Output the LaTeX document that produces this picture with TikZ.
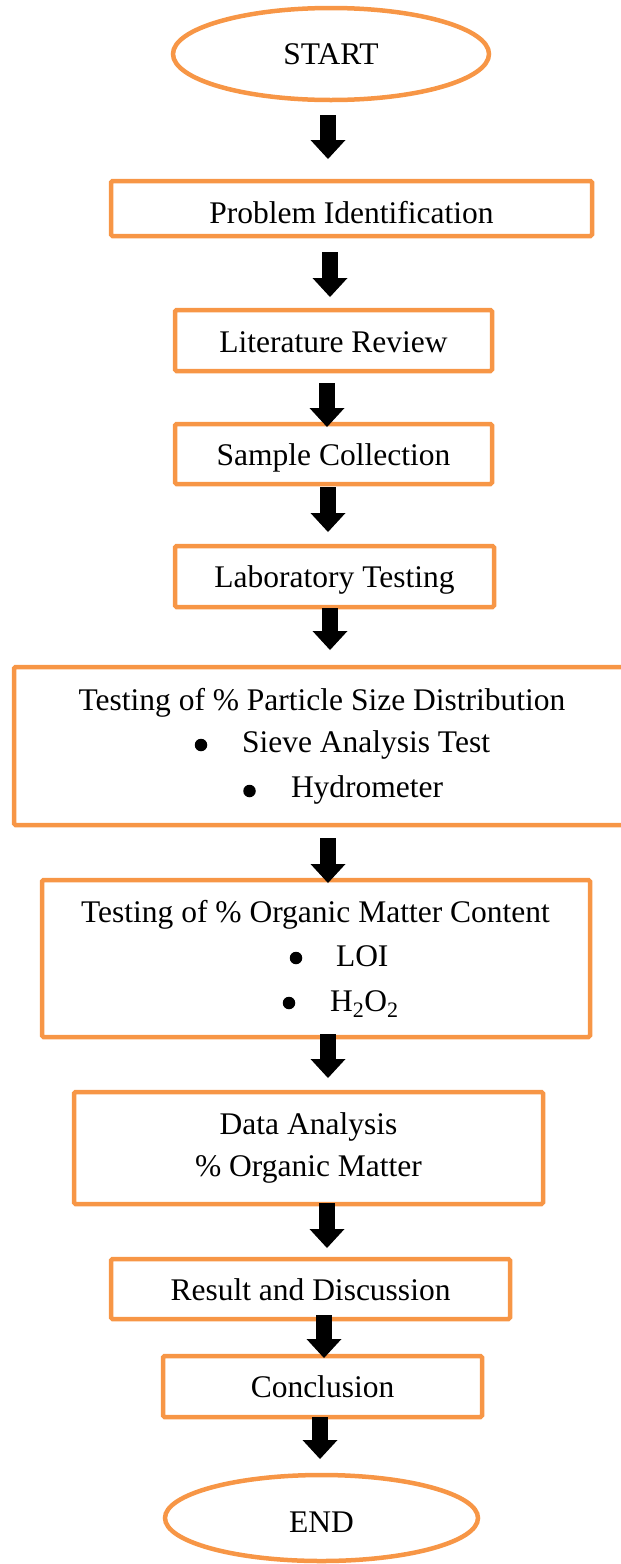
\documentclass[tikz,border=0pt]{standalone}
\usepackage{fontspec}
\setmainfont{Liberation Serif}
\usetikzlibrary{arrows.meta,shapes.geometric}
\definecolor{boxorange}{HTML}{F79646}
\begin{document}
\begin{tikzpicture}[x=1pt,y=-1pt,
  every node/.style={font=\fontsize{31.5}{36}\selectfont, inner sep=0pt, outer sep=0pt},
  box/.style={draw=boxorange, line width=4.5pt, rounded corners=1.5pt, rectangle, text height=22pt, text depth=0pt},
  term/.style={draw=boxorange, line width=4.5pt, ellipse, text height=20pt, text depth=0pt},
  txt/.style={anchor=base},
  txtw/.style={anchor=base west},
  bul/.style={circle, fill=black, minimum size=12.5pt},
  blk/.style={line width=16pt, -{Triangle[width=35pt,length=19pt,line width=0pt]}}]
\useasboundingbox (0,0) rectangle (621,1564);

% terminals and boxes
\node[term, minimum width=316pt, minimum height=92pt] (start) at (331,54) {START};
\node[box, minimum width=481pt, minimum height=55pt, text height=29pt] (prob) at (351.5,208.5) {Problem Identification};
\node[box, minimum width=317pt, minimum height=61pt, text height=23pt] (lit) at (333.5,340.5) {Literature Review};
\node[box, minimum width=317pt, minimum height=60pt, text height=22pt] (samp) at (333.5,454) {Sample Collection};
\node[box, minimum width=319pt, minimum height=61pt, text height=21pt] (lab) at (334.5,576.5) {Laboratory Testing};
\node[box, minimum width=616pt, minimum height=158pt] (part) at (322,746) {};
\node[box, minimum width=548pt, minimum height=157pt] (org) at (316,958.5) {};
\node[box, minimum width=469pt, minimum height=112pt] (data) at (308.5,1148) {};
\node[box, minimum width=399pt, minimum height=60pt, text height=22pt] (res) at (310.5,1289) {Result and Discussion};
\node[box, minimum width=319pt, minimum height=61pt, text height=21pt] (conc) at (322.5,1386.5) {Conclusion};
\node[term, minimum width=313pt, minimum height=86pt, text height=28pt] (end) at (321.5,1518) {END};

% texts of the multi-line boxes
\node[txt] (partT) at (322,710) {Testing of \% Particle Size Distribution};
\node[bul] (partB1) at (201,745) {};
\node[txtw] (partL1) at (242,752) {Sieve Analysis Test};
\node[bul] (partB2) at (249.5,791) {};
\node[txtw] (partL2) at (291,797) {Hydrometer};

\node[txt] (orgT) at (315.5,922) {Testing of \% Organic Matter Content};
\node[bul] (orgB1) at (296,958) {};
\node[txtw] (orgL1) at (336,966) {LOI};
\node[bul] (orgB2) at (289,1003) {};
\node[txtw] (orgL2) at (330,1011) {H\textsubscript{2}O\textsubscript{2}};

\node[txt] (dataT1) at (308.5,1134) {Data Analysis};
\node[txt] (dataT2) at (308.5,1176) {\% Organic Matter};

% arrow end points
\coordinate (a1s) at (328,115);  \coordinate (a1e) at (328,159);
\coordinate (a2s) at (330,252);  \coordinate (a2e) at (330,297);
\coordinate (a3s) at (327,383);  \coordinate (a3e) at (327,427);
\coordinate (a4s) at (328,487);  \coordinate (a4e) at (328,532);
\coordinate (a5s) at (330,608);  \coordinate (a5e) at (330,650);
\coordinate (a6s) at (328,838);  \coordinate (a6e) at (328,883);
\coordinate (a7s) at (328,1034); \coordinate (a7e) at (328,1078);
\coordinate (a8s) at (327,1203); \coordinate (a8e) at (327,1248);
\coordinate (a9s) at (324,1315); \coordinate (a9e) at (324,1358);
\coordinate (a10s) at (320,1417); \coordinate (a10e) at (320,1459);

\draw[blk] (a1s) -- (a1e);
\draw[blk] (a2s) -- (a2e);
\draw[blk] (a3s) -- (a3e);
\draw[blk] (a4s) -- (a4e);
\draw[blk] (a5s) -- (a5e);
\draw[blk] (a6s) -- (a6e);
\draw[blk] (a7s) -- (a7e);
\draw[blk] (a8s) -- (a8e);
\draw[blk] (a9s) -- (a9e);
\draw[blk] (a10s) -- (a10e);
\end{tikzpicture}
\end{document}
